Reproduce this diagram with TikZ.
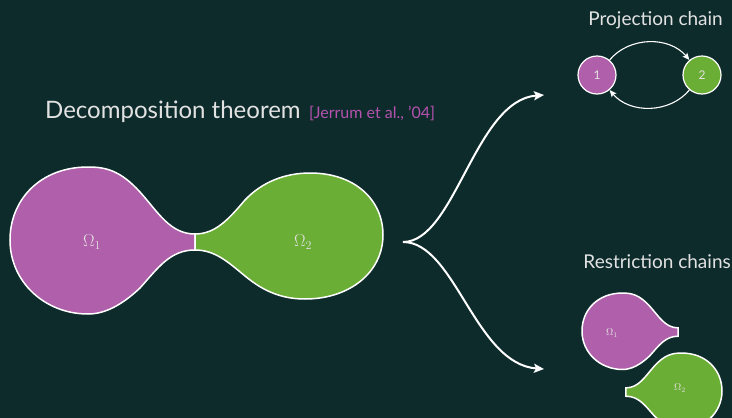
\documentclass[tikz,border=0pt]{standalone}
\usepackage{fontspec}
\setmainfont{Lato}
\usetikzlibrary{arrows.meta}
\definecolor{bgteal}{HTML}{0E2B2C}
\definecolor{blobpurple}{HTML}{B05FAB}
\definecolor{blobgreen}{HTML}{6BAE35}
\definecolor{citecol}{HTML}{B452AE}
\definecolor{txtcol}{HTML}{E2E2E2}
\newcommand\tearPath{(195,234) .. controls (170,234) and (158,212) .. (140,192) .. controls (120,170) and (105,167) .. (88,167) .. controls (40,167) and (10,200) .. (10,240) .. controls (10,282) and (45,314) .. (88,314) .. controls (105,314) and (122,305) .. (140,288) .. controls (158,268) and (170,250) .. (195,250) -- cycle}
\tikzset{
  blobline/.style={draw=white, line width=1.5pt},
  omegalab/.style={text=txtcol, font=\fontsize{17}{19}\selectfont},
  omegasmall/.style={text=txtcol, font=\fontsize{10}{12}\selectfont},
  heading/.style={text=txtcol, font=\fontsize{19}{22}\selectfont},
  statenode/.style={circle, draw=white, line width=1.2pt, minimum size=38pt, inner sep=0pt, text=txtcol, font=\fontsize{12}{14}\selectfont},
  forkarrow/.style={draw=white, line width=2pt, -{Stealth[length=10pt,width=9pt,inset=2pt]}},
  chainarrow/.style={draw=white, line width=1.1pt, -{Stealth[length=7pt,width=6pt,inset=1.5pt]}}
}
\begin{document}
\begin{tikzpicture}[x=1pt,y=-1pt]
\fill[bgteal] (0,0) rectangle (732,418);
\useasboundingbox (0,0) rectangle (732,418);
\clip (0,0) rectangle (732,418);

% title
\node[anchor=base west, text=txtcol, font=\fontsize{24}{28}\selectfont, inner sep=0pt] (title) at (45,118) {Decomposition theorem};
\node[anchor=base west, text=citecol, font=\fontsize{16}{18}\selectfont, inner sep=0pt] (cite) at ([xshift=8pt]title.base east) {[Jerrum et al., '04]};

% big blobs
\fill[blobpurple] \tearPath;
\draw[blobline] \tearPath;
\fill[blobgreen] (195,234) .. controls (215,234) and (228,220) .. (245,200) .. controls (262,182) and (285,173) .. (310,173) .. controls (355,173) and (383,200) .. (383,235) .. controls (383,272) and (350,299) .. (305,299) .. controls (280,299) and (262,290) .. (245,276) .. controls (228,262) and (215,250) .. (195,250) -- cycle;
\draw[blobline] (195,234) .. controls (215,234) and (228,220) .. (245,200) .. controls (262,182) and (285,173) .. (310,173) .. controls (355,173) and (383,200) .. (383,235) .. controls (383,272) and (350,299) .. (305,299) .. controls (280,299) and (262,290) .. (245,276) .. controls (228,262) and (215,250) .. (195,250) -- cycle;
\node[omegalab] (om1) at (92,242) {$\Omega_1$};
\node[omegalab] (om2) at (303,242) {$\Omega_2$};

% fork arrows
\coordinate (fork) at (403,242);
\coordinate (projtip) at (544,95);
\coordinate (restip) at (544,369);
\draw[forkarrow] (fork) .. controls (455,242) and (475,100) .. (projtip);
\draw[forkarrow] (fork) .. controls (455,242) and (475,364) .. (restip);

% projection chain
\node[heading, anchor=base east, inner sep=0pt] (projhead) at (723,25) {Projection chain};
\node[statenode, fill=blobpurple] (s1) at (597,75) {1};
\node[statenode, fill=blobgreen] (s2) at (702,75) {2};
\draw[chainarrow] (s1) to[out=50,in=130] (s2);
\draw[chainarrow] (s2) to[out=230,in=-50] (s1);

% restriction chains
\node[heading, anchor=base east, inner sep=0pt] (reshead) at (731,268) {Restriction chains};
\begin{scope}[shift={(576.8,206.2)}, scale=0.52]
  \fill[blobpurple] \tearPath;
  \draw[blobline] \tearPath;
\end{scope}
\begin{scope}[shift={(727.2,266.2)}, xscale=-0.52, yscale=0.52]
  \fill[blobgreen] \tearPath;
  \draw[blobline] \tearPath;
\end{scope}
\node[omegasmall] (rom1) at (612,333) {$\Omega_1$};
\node[omegasmall] (rom2) at (680,388) {$\Omega_2$};
\end{tikzpicture}
\end{document}
